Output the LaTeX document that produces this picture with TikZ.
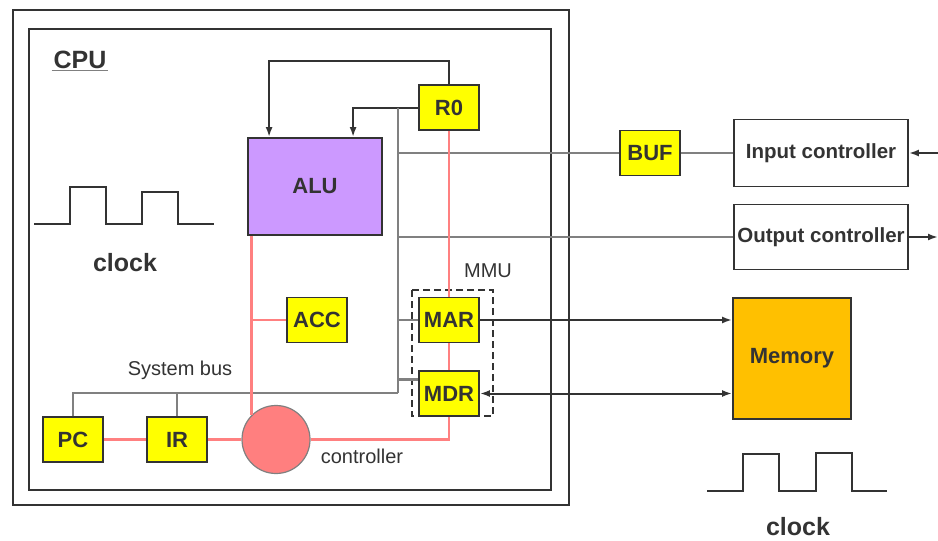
\documentclass[tikz,border=0pt]{standalone}
\usepackage{fontspec}
\usetikzlibrary{arrows.meta}
\setmainfont{Liberation Sans}
\definecolor{ink}{HTML}{333333}
\definecolor{busgray}{HTML}{808080}
\definecolor{wirered}{HTML}{FF8080}
\definecolor{regyellow}{HTML}{FFFF00}
\definecolor{alupurple}{HTML}{CC99FF}
\definecolor{memorange}{HTML}{FFC000}
\definecolor{ctrlred}{HTML}{FF7F7F}
\newcommand{\bigfont}{\fontsize{22}{26}\selectfont\bfseries}
\newcommand{\labfont}{\fontsize{20}{24}\selectfont}

\begin{document}
\begin{tikzpicture}[x = 1pt, y = -1pt, line width = 1.8pt, text = ink, > = {Latex[length = 10pt, width = 7pt]},
		reg/.style = {rectangle, draw = ink, fill = regyellow, minimum width = 60pt, minimum height = 45pt, inner sep = 0pt, font = \bigfont},
		ctrlbox/.style = {rectangle, draw = ink, minimum width = 174pt, inner sep = 0pt, font = \fontsize{20.5}{24}\selectfont\bfseries},
		bus/.style = {draw = busgray, line width = 2.2pt},
		wire/.style = {draw = wirered, line width = 2.2pt},
		arr/.style = {draw = ink, line width = 2pt, ->}]
		\useasboundingbox (0, 0) rectangle (938, 541);
		% frames
		\draw[ink] (13, 10) rectangle (569, 505);
		\draw[ink] (29, 29) rectangle (551, 490);
		\node[font = \fontsize{25}{28}\selectfont\bfseries, inner sep = 1pt] (cpu) at (80, 60) {CPU};
		\draw[busgray, line width = 1.2pt] (cpu.south west) -- (cpu.south east);
		% registers and units
		\node[rectangle, draw = ink, fill = alupurple, minimum width = 134pt, minimum height = 97pt, font = \bigfont] (ALU) at (315, 186.5) {ALU};
		\node[reg] (R0) at (449, 107.5) {R0};
		\node[reg] (ACC) at (317, 320) {ACC};
		\node[reg] (MAR) at (449, 320) {MAR};
		\node[reg] (MDR) at (449, 393.5) {MDR};
		\node[reg] (PC) at (73, 439.5) {PC};
		\node[reg] (IR) at (177, 439.5) {IR};
		\node[reg] (BUF) at (650, 153) {BUF};
		\node[circle, draw = busgray, fill = ctrlred, minimum size = 68pt, line width = 1.2pt] (ctrl) at (276, 439.5) {};
		\node[font = \labfont] (ctrltext) at (362, 456) {controller};
		\node[font = \labfont] (bustext) at (180, 370) {System bus};
		\draw[ink, dash pattern = on 7pt off 4pt, line width = 1.8pt] (412, 290) rectangle (493, 416);
		\node[font = \labfont] (mmu) at (488, 271) {MMU};
		\node[ctrlbox, minimum height = 67pt] (Input) at (821, 153) {Input controller};
		\node[ctrlbox, minimum height = 65pt] (Output) at (821, 237) {Output controller};
		\node[rectangle, draw = ink, fill = memorange, minimum width = 118pt, minimum height = 121pt, font = \bigfont] (Memory) at (792, 358.5) {Memory};
		\coordinate (bt) at (398, 107.5);
		\coordinate (bb) at (398, 393);
		\coordinate (inE) at (938, 153);
		\coordinate (outE) at (938, 237);
		% R0 feedback
		\draw[arr] (R0.north) -- ++(0, -23) -| ([xshift = 22pt]ALU.north west);
		\draw[arr] (R0.west) -| ([xshift = 106pt]ALU.north west);
		% system bus
		\draw[bus] (bt) -- (bb);
		\draw[bus] (PC.north) |- (bb);
		\draw[bus] (IR.north) -- (IR.north |- bb);
		\draw[bus] (BUF.west -| bt) -- (BUF.west);
		\draw[bus] (BUF.east) -- (Input.west);
		\draw[bus] (Output.west -| bt) -- (Output.west);
		\draw[bus] (MAR.west -| bt) -- (MAR.west);
		\draw[bus] ([yshift = 14pt]MDR.west -| bt) -- ([yshift = 14pt]MDR.west);
		% control lines
		\draw[wire] (R0.south) -- (MAR.north);
		\draw[wire] (MAR.south) -- (MDR.north);
		\draw[wire] (PC.east) -- (IR.west);
		\draw[wire] (IR.east) -- (ctrl.west);
		\draw[wire] (ctrl.east) -| (MDR.south);
		\draw[wire] (ctrl.north west |- ALU.south) -- (ctrl.north west);
		\draw[wire] (ACC.west -| ctrl.north west) -- (ACC.west);
		% memory and io
		\draw[arr] (MAR.east) -- (MAR.east -| Memory.west);
		\draw[arr, <->] (MDR.east) -- (MDR.east -| Memory.west);
		\draw[arr] (inE) -- (Input.east);
		\draw[arr] (Output.east) -- (outE);
		% clocks
		\draw[ink] (34, 224) -- (70, 224) -- (70, 187) -- (106, 187) -- (106, 224) -- (142, 224) -- (142, 192) -- (178, 192) -- (178, 224) -- (214, 224);
		\node[font = \fontsize{25}{28}\selectfont\bfseries] (clk1) at (125, 263) {clock};
		\draw[ink] (707, 491) -- (743, 491) -- (743, 454) -- (779, 454) -- (779, 491) -- (816, 491) -- (816, 453) -- (852, 453) -- (852, 491) -- (887, 491);
		\node[font = \fontsize{25}{28}\selectfont\bfseries] (clk2) at (798, 527) {clock};
	\end{tikzpicture}
\end{document}
